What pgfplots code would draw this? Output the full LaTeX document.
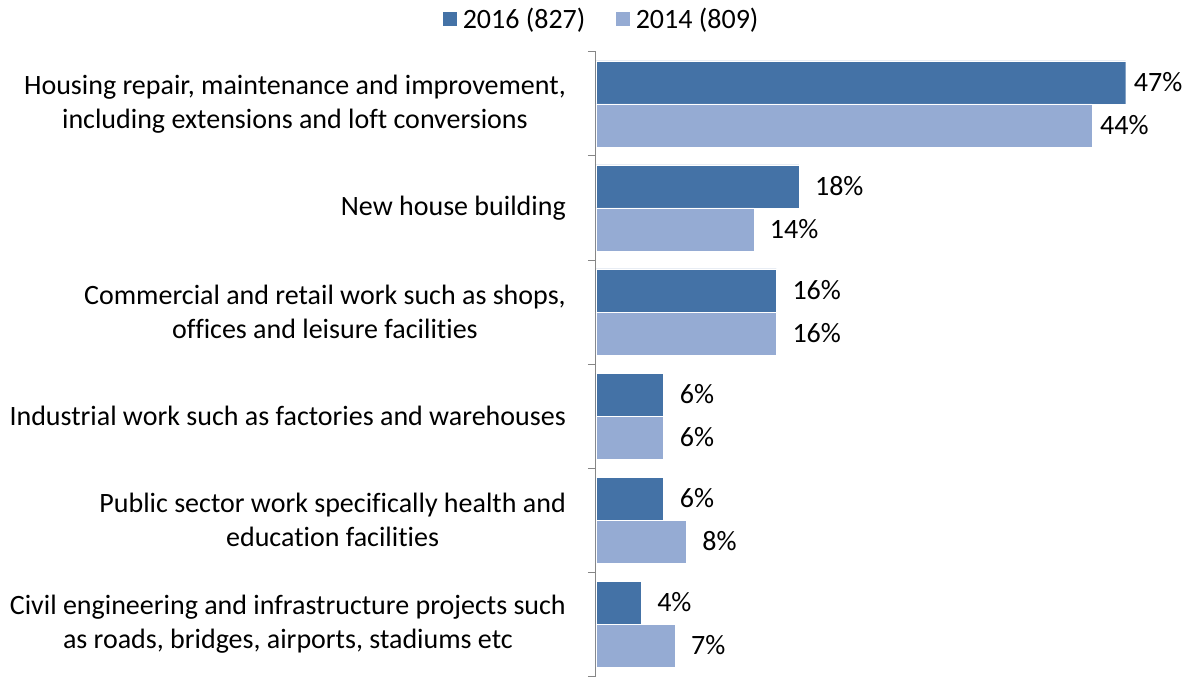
\documentclass[border=0pt]{standalone}
\usepackage{fontspec}
\setmainfont{Carlito}[Ligatures=NoCommon]
\usepackage{pgfplots}
\pgfplotsset{compat=1.18}
\definecolor{c16}{HTML}{4472A6}
\definecolor{c14}{HTML}{95ABD3}
\definecolor{axgray}{HTML}{868686}
\newcommand{\ff}{\fontsize{28pt}{34pt}\selectfont}
\begin{document}
\begin{tikzpicture}[font=\ff]
\begin{axis}[
  at={(596pt,2pt)}, anchor=south west,
  scale only axis, width=541pt, height=624pt,
  xmin=0, xmax=48, ymin=-0.5, ymax=5.5,
  xbar, bar width=43pt,
  axis x line=none, axis y line=left,
  y axis line style={draw=axgray, line width=1pt, -},
  ytick={0,1,2,3,4,5},
  yticklabels={
    {Civil engineering and infrastructure projects such\\as roads, bridges, airports, stadiums etc},
    {Public sector work specifically health and\\education facilities},
    {Industrial work such as factories and warehouses},
    {Commercial and retail work such as shops,\\offices and leisure facilities},
    {New house building},
    {Housing repair, maintenance and improvement,\\including extensions and loft conversions}},
  major tick length=0pt,
  minor ytick={-0.5,0.5,1.5,2.5,3.5,4.5,5.5},
  minor tick length=8pt,
  tick align=outside,
  minor tick style={draw=axgray, line width=1pt},
  yticklabel style={align=center, inner sep=0pt, xshift=-30pt, font=\ff},
  visualization depends on=rawy \as \rawy,
  nodes near coords={\pgfmathprintnumber[assume math mode=true]{\pgfplotspointmeta}\%},
  nodes near coords style={anchor=west, inner sep=0pt, xshift={(\rawy>4.5 ? 8 : 16)}, font=\ff, text=black},
  legend columns=2,
  legend style={at={(0.01,1)}, anchor=center, yshift=33pt, draw=none, fill=none,
    font=\ff,
    /tikz/every odd column/.append style={column sep=3pt},
    /tikz/every even column/.append style={column sep=28pt}},
  legend image code/.code={\fill[#1] (0pt,-7.5pt) rectangle (15pt,7.5pt);},
  clip=false,
]
\addplot[fill=c16, draw=white, line width=0.4pt, bar shift=21.5pt] coordinates {
  (4,0) (6,1) (6,2) (16,3) (18,4) (47,5)};
\addlegendentry{2016 (827)}
\addplot[fill=c14, draw=white, line width=0.4pt, bar shift=-21.5pt] coordinates {
  (7,0) (8,1) (6,2) (16,3) (14,4) (44,5)};
\addlegendentry{2014 (809)}
\end{axis}
\pgfresetboundingbox
\useasboundingbox (0pt,0pt) rectangle (1192pt,678pt);
\end{tikzpicture}
\end{document}
